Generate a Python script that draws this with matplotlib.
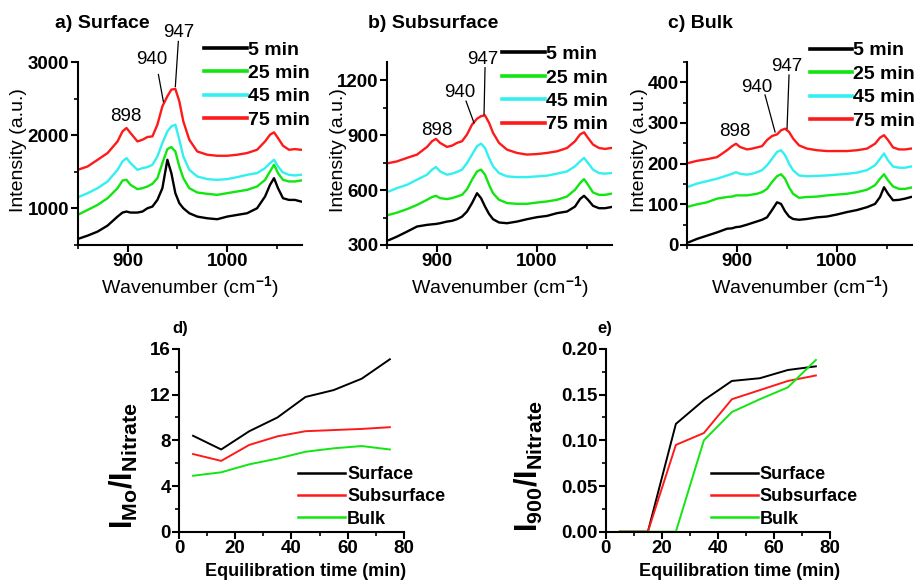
import numpy as np
import matplotlib
matplotlib.use("Agg")
import matplotlib.pyplot as plt
from matplotlib.ticker import MultipleLocator

plt.rcParams['font.family'] = ['Liberation Sans', 'DejaVu Sans']
plt.rcParams['font.weight'] = 'bold'
plt.rcParams['mathtext.fontset'] = 'custom'
plt.rcParams['mathtext.rm'] = 'Liberation Sans'
plt.rcParams['mathtext.bf'] = 'Liberation Sans:bold'
plt.rcParams['mathtext.it'] = 'Liberation Sans:italic'

# Raman spectra
wn = [852, 860, 870, 880, 890, 895, 899, 903, 910, 915, 920, 925, 930, 935, 940, 944, 948,
      952, 956, 962, 970, 980, 990, 1000, 1010, 1020, 1030, 1038, 1043, 1047, 1051, 1056,
      1062, 1068, 1074]

surface_5 = [591, 628, 683, 765, 888, 943, 957, 943, 943, 957, 1002, 1025, 1116, 1276, 1664, 1482, 1208,
             1071, 1002, 934, 888, 865, 852, 888, 911, 934, 1002, 1162, 1322, 1413, 1276, 1139,
             1116, 1116, 1094]
surface_25 = [925, 979, 1048, 1139, 1276, 1381, 1390, 1322, 1263, 1276, 1299, 1336, 1413, 1619, 1810, 1838, 1778,
              1573, 1413, 1276, 1217, 1199, 1185, 1208, 1231, 1253, 1299, 1390, 1505, 1596, 1482, 1390,
              1368, 1368, 1381]
surface_45 = [1162, 1208, 1276, 1368, 1527, 1642, 1687, 1619, 1527, 1550, 1564, 1596, 1710, 1893, 2052, 2121, 2144,
              1938, 1710, 1527, 1436, 1400, 1390, 1400, 1427, 1459, 1482, 1550, 1619, 1664, 1573, 1491,
              1459, 1450, 1459]
surface_75 = [1536, 1573, 1664, 1756, 1915, 2052, 2098, 2030, 1915, 1938, 1975, 1984, 2144, 2395, 2532, 2623, 2632,
              2463, 2189, 1938, 1778, 1733, 1719, 1719, 1733, 1756, 1801, 1915, 2007, 2039, 1961, 1856,
              1801, 1810, 1801]

subsurface_5 = [327, 346, 373, 401, 410, 413, 415, 419, 428, 432, 441, 455, 483, 529, 583, 556, 510,
                470, 441, 423, 419, 428, 441, 452, 459, 474, 483, 510, 551, 569, 547, 514,
                501, 501, 507]
subsurface_25 = [465, 477, 496, 519, 547, 562, 569, 556, 551, 556, 565, 574, 605, 657, 702, 712, 684,
                 629, 583, 547, 529, 525, 525, 532, 538, 547, 565, 602, 638, 660, 629, 587,
                 574, 574, 580]
subsurface_45 = [593, 611, 629, 657, 684, 712, 726, 702, 684, 690, 699, 712, 748, 794, 840, 854, 830,
                 776, 730, 693, 675, 671, 671, 675, 679, 690, 702, 730, 757, 776, 748, 712,
                 693, 690, 693]
subsurface_75 = [748, 757, 776, 794, 836, 867, 880, 858, 836, 843, 858, 867, 904, 958, 990, 1004, 1008,
                 968, 913, 858, 821, 803, 794, 797, 803, 812, 830, 867, 904, 916, 885, 849,
                 830, 825, 830]

bulk_5 = [7, 15, 23, 31, 40, 41, 44, 45, 50, 54, 58, 62, 68, 86, 105, 101, 83,
          70, 64, 62, 64, 68, 70, 75, 81, 86, 93, 101, 118, 142, 126, 110,
          111, 114, 118]
bulk_25 = [95, 100, 105, 114, 118, 119, 122, 122, 122, 124, 126, 130, 138, 155, 169, 174, 163,
           142, 126, 116, 118, 119, 122, 124, 126, 130, 136, 147, 163, 174, 159, 144,
           138, 138, 141]
bulk_45 = [144, 151, 157, 163, 171, 175, 179, 175, 173, 175, 179, 184, 196, 212, 229, 233, 221,
           200, 184, 171, 169, 170, 171, 173, 175, 178, 184, 196, 212, 225, 208, 193,
           190, 190, 193]
bulk_75 = [202, 207, 211, 216, 233, 243, 249, 241, 235, 237, 240, 243, 258, 268, 272, 282, 286,
           278, 262, 245, 237, 233, 231, 231, 231, 233, 237, 249, 264, 270, 258, 240,
           235, 235, 237]

spectra_labels = ['5 min', '25 min', '45 min', '75 min']
spectra_colors = ['black', '#11e611', '#33f0f0', '#ff1a1a']
peak_names = ['898', '940', '947']

# intensity ratios vs. equilibration time
times = [5, 15, 25, 35, 45, 55, 65, 75]
mo_surface = [8.4, 7.2, 8.8, 10.0, 11.8, 12.4, 13.4, 15.1]
mo_subsurface = [6.8, 6.2, 7.6, 8.35, 8.8, 8.9, 9.0, 9.15]
mo_bulk = [4.9, 5.2, 5.9, 6.4, 7.0, 7.3, 7.5, 7.2]
i900_surface = [0, 0, 0.118, 0.144, 0.165, 0.168, 0.177, 0.181]
i900_subsurface = [0, 0, 0.095, 0.108, 0.145, 0.155, 0.165, 0.171]
i900_bulk = [0, 0, 0, 0.100, 0.131, 0.145, 0.158, 0.188]
ratio_labels = ['Surface', 'Subsurface', 'Bulk']
ratio_colors = ['black', '#ff1a1a', '#11e611']

fig = plt.figure(figsize=(9.18, 5.8), dpi=100)


def style_axes(ax, tick_size):
    for side in ['top', 'right']:
        ax.spines[side].set_visible(False)
    for side in ['left', 'bottom']:
        ax.spines[side].set_linewidth(1.5)
    ax.tick_params(which='major', direction='out', length=5, width=1.5, labelsize=tick_size, pad=1)
    ax.tick_params(which='minor', direction='out', length=3, width=1.2)


# top row: spectra (label/leader positions are in data units of each panel)
top_panels = [
    dict(pos=[0.0846, 0.5776, 0.2443, 0.3155], title='a) Surface', tx=55,
         data=[surface_5, surface_25, surface_45, surface_75], ylim=(500, 3000), ymaj=1000,
         ylx=-0.225, leg=(0.565, 1.115),
         ann=[(898, 2253, None), (924, 3034, (931, 2829, 936, 2459)), (951, 3404, (951, 3281, 948, 2664))]),
    dict(pos=[0.4216, 0.5776, 0.2451, 0.3155], title='b) Subsurface', tx=368,
         data=[subsurface_5, subsurface_25, subsurface_45, subsurface_75], ylim=(300, 1300), ymaj=300,
         ylx=-0.18, leg=(0.513, 1.09),
         ann=[(900, 927, None), (923, 1132, (929, 1086, 937, 967)), (946, 1314, (948, 1269, 947, 1013))]),
    dict(pos=[0.7484, 0.5776, 0.2451, 0.3155], title='c) Bulk', tx=668,
         data=[bulk_5, bulk_25, bulk_45, bulk_75], ylim=(0, 450), ymaj=100,
         ylx=-0.173, leg=(0.545, 1.11),
         ann=[(898, 278, None), (920, 388, (928, 369, 938, 278)), (950, 438, (952, 418, 950, 286))]),
]

for p in top_panels:
    ax = fig.add_axes(p['pos'])
    for ys, lab, col in zip(p['data'], spectra_labels, spectra_colors):
        ax.plot(wn, ys, color=col, lw=1.7, label=lab)
    ax.set_xlim(850, 1075)
    ax.set_ylim(*p['ylim'])
    ax.xaxis.set_major_locator(MultipleLocator(100))
    ax.xaxis.set_minor_locator(MultipleLocator(50))
    ax.yaxis.set_major_locator(MultipleLocator(p['ymaj']))
    ax.yaxis.set_minor_locator(MultipleLocator(p['ymaj'] / 2))
    style_axes(ax, 13.5)
    ax.set_xlabel('Wavenumber (cm$^{-1}$)', fontsize=14, fontweight='normal')
    ax.xaxis.set_label_coords(0.5, -0.16)
    ax.set_ylabel('Intensity (a.u.)', fontsize=14, fontweight='normal')
    ax.yaxis.set_label_coords(p['ylx'], 0.52)
    fig.text(p['tx'] / 918, 1 - 23 / 580, p['title'], fontsize=14, fontweight='bold', va='center')
    leg = ax.legend(loc='upper left', bbox_to_anchor=p['leg'], frameon=False, fontsize=14,
                    handlelength=2.2, handletextpad=0.05, labelspacing=0.3, borderpad=0,
                    borderaxespad=0)
    for h in leg.legend_handles:
        h.set_linewidth(2.6)
    for name, (lx, ly, seg) in zip(peak_names, p['ann']):
        ax.text(lx, ly, name, fontsize=13.5, fontweight='normal', ha='center', va='center', clip_on=False)
        if seg is not None:
            ax.plot([seg[0], seg[2]], [seg[1], seg[3]], color='black', lw=0.9, clip_on=False)

# bottom row: ratios
bottom_panels = [
    dict(pos=[0.195, 0.0833, 0.245, 0.315], tag='d)', tx=172,
         data=[mo_surface, mo_subsurface, mo_bulk], ylim=(0, 16), ymaj=4,
         ylabel=r'$\mathbf{I_{Mo}/I_{Nitrate}}$', ylx=-0.175, xlx=0.562, leg=(0.53, 0.36)),
    dict(pos=[0.660, 0.0833, 0.244, 0.315], tag='e)', tx=597,
         data=[i900_surface, i900_subsurface, i900_bulk], ylim=(0, 0.2), ymaj=0.05,
         ylabel=r'$\mathbf{I_{900}/I_{Nitrate}}$', ylx=-0.27, xlx=0.598, leg=(0.47, 0.36)),
]

for p in bottom_panels:
    ax = fig.add_axes(p['pos'])
    for ys, lab, col in zip(p['data'], ratio_labels, ratio_colors):
        ax.plot(times, ys, color=col, lw=1.4, label=lab)
    ax.set_xlim(0, 80)
    ax.set_ylim(*p['ylim'])
    ax.xaxis.set_major_locator(MultipleLocator(20))
    ax.xaxis.set_minor_locator(MultipleLocator(10))
    ax.yaxis.set_major_locator(MultipleLocator(p['ymaj']))
    ax.yaxis.set_minor_locator(MultipleLocator(p['ymaj'] / 2))
    style_axes(ax, 13.5)
    ax.set_xlabel('Equilibration time (min)', fontsize=13, fontweight='bold')
    ax.xaxis.set_label_coords(p['xlx'], -0.17)
    ax.set_ylabel(p['ylabel'], fontsize=22)
    ax.yaxis.set_label_coords(p['ylx'], 0.36)
    fig.text(p['tx'] / 918, 1 - 328 / 580, p['tag'], fontsize=12, fontweight='bold', va='center')
    leg = ax.legend(loc='upper left', bbox_to_anchor=p['leg'], frameon=False, fontsize=13,
                    handlelength=2.6, handletextpad=0.1, labelspacing=0.3, borderpad=0,
                    borderaxespad=0)
    for h in leg.legend_handles:
        h.set_linewidth(1.8)

fig.savefig('out.png', dpi=100)
